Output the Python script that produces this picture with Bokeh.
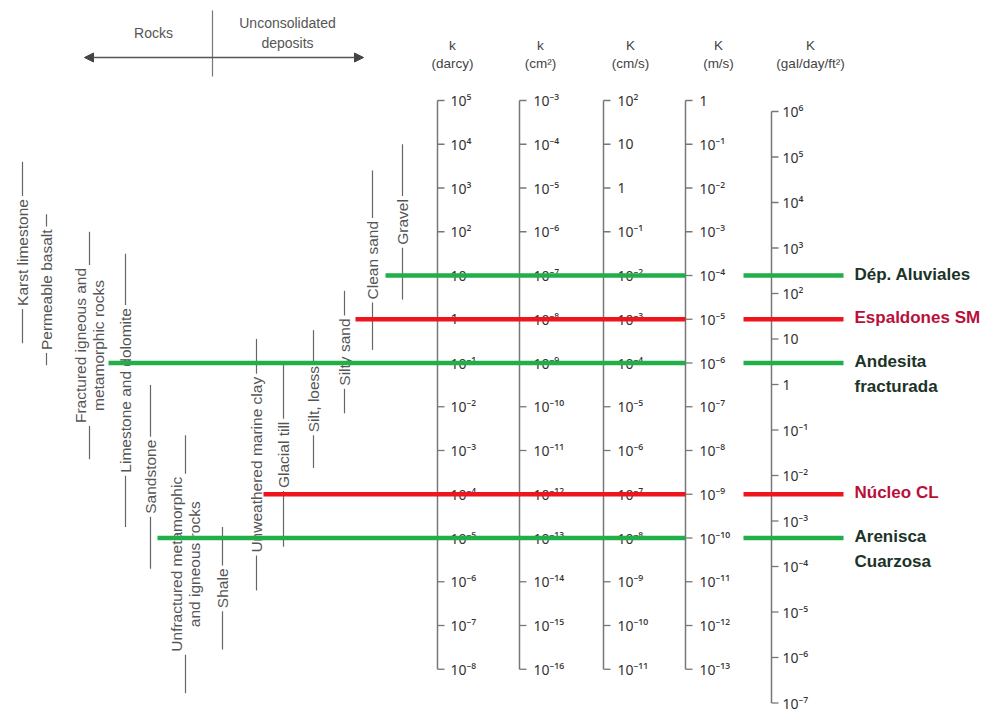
import math
from bokeh.plotting import figure
from bokeh.models import Range1d, Arrow, NormalHead
from bokeh.core.properties import value
from bokeh.embed import file_html
from bokeh.resources import INLINE

# ---------------- data ----------------
# tick exponents and labels of each scale column
darcy_exp = [5, 4, 3, 2, 1, 0, -1, -2, -3, -4, -5, -6, -7, -8]
darcy_lbl = ["10⁵", "10⁴", "10³", "10²", "10", "1", "10⁻¹", "10⁻²", "10⁻³", "10⁻⁴",
             "10⁻⁵", "10⁻⁶", "10⁻⁷", "10⁻⁸"]
cm2_exp = [-3, -4, -5, -6, -7, -8, -9, -10, -11, -12, -13, -14, -15, -16]
cm2_lbl = ["10⁻³", "10⁻⁴", "10⁻⁵", "10⁻⁶", "10⁻⁷", "10⁻⁸", "10⁻⁹", "10⁻¹⁰", "10⁻¹¹",
           "10⁻¹²", "10⁻¹³", "10⁻¹⁴", "10⁻¹⁵", "10⁻¹⁶"]
cms_exp = [2, 1, 0, -1, -2, -3, -4, -5, -6, -7, -8, -9, -10, -11]
cms_lbl = ["10²", "10", "1", "10⁻¹", "10⁻²", "10⁻³", "10⁻⁴", "10⁻⁵", "10⁻⁶", "10⁻⁷",
           "10⁻⁸", "10⁻⁹", "10⁻¹⁰", "10⁻¹¹"]
ms_exp = [0, -1, -2, -3, -4, -5, -6, -7, -8, -9, -10, -11, -12, -13]
ms_lbl = ["1", "10⁻¹", "10⁻²", "10⁻³", "10⁻⁴", "10⁻⁵", "10⁻⁶", "10⁻⁷", "10⁻⁸", "10⁻⁹",
          "10⁻¹⁰", "10⁻¹¹", "10⁻¹²", "10⁻¹³"]
gal_exp = [6, 5, 4, 3, 2, 1, 0, -1, -2, -3, -4, -5, -6, -7]
gal_lbl = ["10⁶", "10⁵", "10⁴", "10³", "10²", "10", "1", "10⁻¹", "10⁻²", "10⁻³",
           "10⁻⁴", "10⁻⁵", "10⁻⁶", "10⁻⁷"]

# material ranges, log10 K (m/s): upper and lower ends
materials = ["Karst limestone", "Permeable basalt",
             "Fractured igneous and\nmetamorphic rocks", "Limestone and dolomite",
             "Sandstone", "Unfractured metamorphic\nand igneous rocks", "Shale",
             "Unweathered marine clay", "Glacial till", "Silt, loess", "Silty sand",
             "Clean sand", "Gravel"]
mat_top = [-1.4, -2.6, -3.0, -3.5, -6.5, -7.65, -9.75, -5.45, -6.0, -5.25, -4.35, -1.6, -1.0]
mat_bot = [-5.55, -6.05, -8.2, -9.75, -10.7, -13.55, -12.55, -11.2, -10.2, -8.4, -7.15, -5.7, -4.55]

# site materials: hydraulic conductivity (m/s)
site_names = ["Dép. Aluviales", "Espaldones SM", "Andesita\nfracturada", "Núcleo CL",
              "Arenisca\nCuarzosa"]
site_k = [1e-4, 1e-5, 1e-6, 1e-9, 1e-10]
site_group = ["green", "red", "green", "red", "green"]

# ---------------- layout ----------------
W, H = 993, 711
PAGE_TOP, PAGE_BOT = 0, H
Y0, DEC = 100, 43.75          # page y of K = 1 m/s, px per decade
GAL_Y0, GAL_DEC = 111, 45.5   # page y of 10^6 gal/day/ft2, px per decade

ms_top = (Y0 - PAGE_TOP) / DEC
ms_bot = -(PAGE_BOT - Y0) / DEC

FONT = value("Liberation Sans")
TICK_FONT = value("Noto Sans")
line_col = {"green": "#22ae48", "red": "#f0141c"}
text_col = {"green": "#1c3328", "red": "#b8103a"}

p = figure(width=W, height=H, x_range=Range1d(0, W), y_range=Range1d(ms_bot, ms_top),
           output_backend="svg", toolbar_location=None, min_border=0)
p.axis.visible = False
p.grid.visible = False
p.outline_line_color = None
p.background_fill_color = "white"
p.border_fill_color = "white"

p.extra_y_ranges = {
    "darcy": Range1d(ms_bot + 5, ms_top + 5),
    "cm2": Range1d(ms_bot - 3, ms_top - 3),
    "cms": Range1d(ms_bot + 2, ms_top + 2),
    "gal": Range1d(6 - (PAGE_BOT - GAL_Y0) / GAL_DEC, 6 + (GAL_Y0 - PAGE_TOP) / GAL_DEC),
    "px": Range1d(PAGE_BOT, PAGE_TOP),
}

# ---- header: rocks / unconsolidated deposits ----
p.add_layout(Arrow(start=NormalHead(size=9, fill_color="#444", line_color="#444"),
                   end=NormalHead(size=9, fill_color="#444", line_color="#444"),
                   x_start=84, x_end=363, y_start=57, y_end=57,
                   line_color="#555", line_width=1.3, y_range_name="px"))
p.segment(x0=[212], y0=[10], x1=[212], y1=[76], line_color="#777", line_width=1.2,
          y_range_name="px")
p.text(x=[153, 287], y=[32, 32], text=["Rocks", "Unconsolidated\ndeposits"],
       text_align="center", text_baseline="middle", text_font=FONT,
       text_font_size="14px", text_color="#555", text_line_height=1.25, y_range_name="px")

# ---- material ranges (rotated labels) ----
mat_x = [22, 46, 89, 125, 150, 185, 222, 256, 283, 313, 344, 372, 402]
p.segment(x0=mat_x, y0=mat_top, x1=mat_x, y1=mat_bot, line_color="#666", line_width=1.2)
p.text(x=mat_x, y=[(a + b) / 2 for a, b in zip(mat_top, mat_bot)], text=materials,
       angle=math.pi / 2, text_align="center", text_baseline="middle", text_font=FONT,
       text_font_size="15.5px", text_color="#555", text_line_height=1.05,
       background_fill_color="white", padding=3)

# ---- scale columns ----
columns = [
    ("darcy", 437, 452, "k\n(darcy)", darcy_exp, darcy_lbl, 13),
    ("cm2", 519, 540, "k\n(cm²)", cm2_exp, cm2_lbl, 14),
    ("cms", 603, 630, "K\n(cm/s)", cms_exp, cms_lbl, 14),
    ("default", 685, 718, "K\n(m/s)", ms_exp, ms_lbl, 14),
    ("gal", 771, 810, "K\n(gal/day/ft²)", gal_exp, gal_lbl, 11),
]
for name, ax, hx, head, exps, lbls, off in columns:
    n = len(exps)
    p.segment(x0=[ax], y0=[exps[0]], x1=[ax], y1=[exps[-1]], line_color="#777",
              line_width=1.5, y_range_name=name)
    p.segment(x0=[ax] * n, y0=exps, x1=[ax + 7] * n, y1=exps, line_color="#777",
              line_width=1.3, y_range_name=name)
    p.text(x=[ax + off] * n, y=exps, text=lbls, text_align="left", text_baseline="middle",
           text_font=TICK_FONT, text_font_size="14px", text_color="#333", y_range_name=name)
    p.text(x=[hx], y=[54], text=[head], text_align="center", text_baseline="middle",
           text_font=FONT, text_font_size="13.5px", text_color="#444",
           text_line_height=1.25, y_range_name="px")

# ---- site values ----
site_y = [math.log10(k) for k in site_k]
left_x = [385, 355, 108, 263, 157]
p.segment(x0=left_x, y0=site_y, x1=[685] * 5, y1=site_y,
          line_color=[line_col[g] for g in site_group], line_width=4.5)
p.segment(x0=[743] * 5, y0=site_y, x1=[843] * 5, y1=site_y,
          line_color=[line_col[g] for g in site_group], line_width=4.5)
p.text(x=[854] * 5, y=site_y, text=site_names, text_align="left", text_baseline="top",
       y_offset=-11, text_font=FONT, text_font_style="bold", text_font_size="17px",
       text_color=[text_col[g] for g in site_group], text_line_height=1.3)

open("out.html", "w").write(file_html(p, INLINE))
